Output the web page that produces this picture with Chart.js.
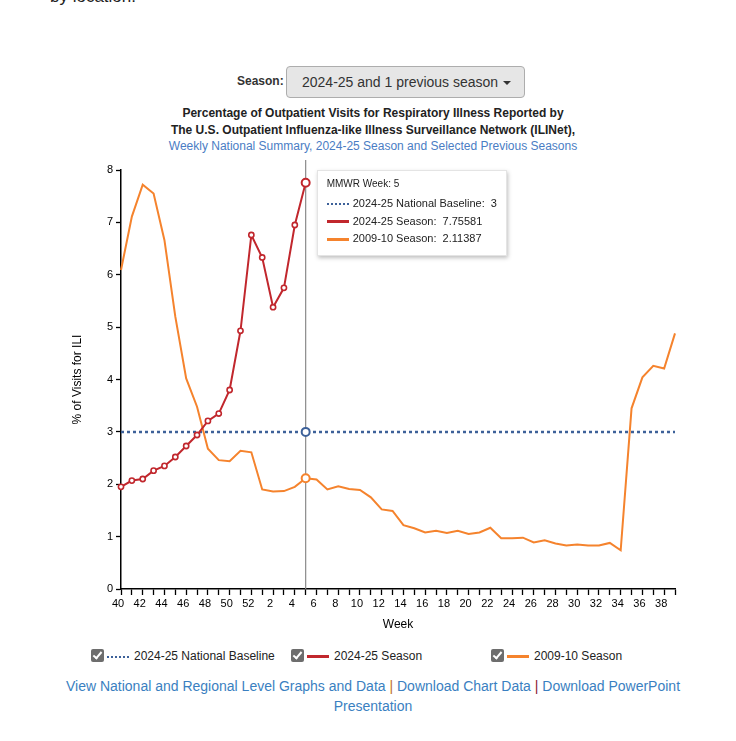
<!DOCTYPE html>
<html>
<head>
<meta charset="utf-8">
<script src="https://cdn.jsdelivr.net/npm/chart.js@4"></script>
<style>
body{margin:0;background:#fff;font-family:"Liberation Sans",Arial,sans-serif;color:#222;width:736px;height:741px;overflow:hidden;position:relative}
#cut{position:absolute;left:50px;top:-13px;font-size:17px;color:#222}
#sel{position:absolute;left:0;top:66px;width:736px;height:32px}
#sel .lbl{position:absolute;left:237px;top:8px;font-weight:bold;font-size:12px;color:#333}
#sel .box{position:absolute;left:286px;top:0;width:222px;height:30px;padding-left:15px;background:#e6e6e6;border:1px solid #adadad;border-radius:4px;font-size:14px;line-height:30px;color:#333;white-space:nowrap}
#sel .caret{display:inline-block;width:0;height:0;border-top:4px solid #333;border-left:4px solid transparent;border-right:4px solid transparent;vertical-align:middle;margin-left:5px}
#ttl{position:absolute;left:0;top:105px;width:746px;text-align:center;font-size:12px;line-height:16.5px}
#ttl b{color:#222}
#ttl .sub{color:#4a7dc4}
#wrap{position:absolute;left:60px;top:160px;width:630px;height:480px}
#tip{position:absolute;background:#fff;border:1px solid #e4e4e4;box-shadow:1px 2px 4px rgba(0,0,0,.25);padding:7px 9px;font-size:11px;color:#222;display:none;white-space:nowrap}
#tip .t{font-size:10px;margin-bottom:6px}
#tip .r{height:17.5px;line-height:17.5px}
#tip .s{display:inline-block;width:22px;height:0;vertical-align:middle;margin-right:4px}
#leg{position:absolute;left:0;top:648px;width:736px;font-size:12px}
#leg .it{position:absolute;top:0;height:16px;line-height:16px}
#leg .cb{display:inline-block;width:13px;height:13px;background:#6d6d6d;border-radius:2px;vertical-align:middle;position:relative;top:-1px}
#leg .cb:after{content:"";position:absolute;left:4px;top:1px;width:3px;height:7px;border:solid #fff;border-width:0 2px 2px 0;transform:rotate(40deg)}
#leg .s{display:inline-block;width:22px;height:0;vertical-align:middle;margin:0 5px 0 3px}
#links{position:absolute;left:43px;top:676px;width:660px;text-align:center;font-size:14px;line-height:20px;color:#3a7fc1}
</style>
</head>
<body>
<div id="cut">by location.</div>
<div id="sel"><span class="lbl">Season:</span><div class="box">2024-25 and 1 previous season<span class="caret"></span></div></div>
<div id="ttl"><b>Percentage of Outpatient Visits for Respiratory Illness Reported by</b><br><b>The U.S. Outpatient Influenza-like Illness Surveillance Network (ILINet),</b><br><span class="sub">Weekly National Summary, 2024-25 Season and Selected Previous Seasons</span></div>
<div id="wrap"><canvas id="grafico"></canvas><div id="tip"></div></div>
<div id="leg"></div>
<div id="links">View National and Regional Level Graphs and Data <span style="color:#c0701e">|</span> Download Chart Data <span style="color:#8a2232">|</span> Download PowerPoint<br>Presentation</div>
<script>
const semanas = [40,41,42,43,44,45,46,47,48,49,50,51,52,1,2,3,4,5,6,7,8,9,10,11,12,13,14,15,16,17,18,19,20,21,22,23,24,25,26,27,28,29,30,31,32,33,34,35,36,37,38,39];
const lineaBase = [3,3,3,3,3,3,3,3,3,3,3,3,3,3,3,3,3,3,3,3,3,3,3,3,3,3,3,3,3,3,3,3,3,3,3,3,3,3,3,3,3,3,3,3,3,3,3,3,3,3,3,3];
const temporada2425 = [1.95,2.07,2.10,2.26,2.35,2.52,2.73,2.94,3.21,3.35,3.80,4.93,6.76,6.33,5.38,5.75,6.95,7.75581];
const temporada0910 = [6.09,7.11,7.72,7.55,6.66,5.20,4.02,3.48,2.68,2.46,2.44,2.64,2.61,1.90,1.86,1.87,1.95,2.11387,2.09,1.90,1.96,1.91,1.89,1.75,1.52,1.49,1.22,1.16,1.08,1.11,1.07,1.11,1.05,1.08,1.17,0.97,0.97,0.98,0.89,0.93,0.87,0.83,0.85,0.83,0.83,0.88,0.74,3.45,4.04,4.26,4.21,4.88];
const etiquetasY = [0,1,2,3,4,5,6,7,8];
const semanaActiva = 17;

const series = [
    {label:"2024-25 National Baseline", color:"#3d6199", dash:true},
    {label:"2024-25 Season", color:"#c1272d", dash:false},
    {label:"2009-10 Season", color:"#f5832d", dash:false}
];

function muestra(s){
    if (s.dash) return '<span class="s" style="border-top:2.5px dotted '+s.color+'"></span>';
    return '<span class="s" style="border-top:3px solid '+s.color+'"></span>';
}

// leyenda con casillas
let leg = document.getElementById("leg");
[91,291,491].forEach(function(x, i){
    let d = document.createElement("div");
    d.className = "it";
    d.style.left = x + "px";
    d.innerHTML = '<span class="cb"></span>' + muestra(series[i]) + series[i].label;
    leg.appendChild(d);
});

function tooltipExterno(context){
    let tip = document.getElementById("tip");
    let t = context.tooltip;
    if (t.opacity === 0) { tip.style.display = "none"; return; }
    let html = '<div class="t">MMWR Week: ' + semanas[t.dataPoints[0].dataIndex] + '</div>';
    t.dataPoints.forEach(function(p){
        html += '<div class="r">' + muestra(series[p.datasetIndex]) + p.dataset.label + ':&nbsp; ' + p.raw + '</div>';
    });
    tip.innerHTML = html;
    tip.style.display = "block";
    tip.style.left = (t.caretX + 11) + "px";
    tip.style.top = context.chart.chartArea.top + "px";
}

const lineaVertical = {
    id: "lineaVertical",
    beforeDatasetsDraw(chart){
        let x = chart.scales.x.getPixelForValue(semanaActiva);
        let ctx = chart.ctx;
        ctx.save();
        ctx.strokeStyle = "#8a8a8a";
        ctx.lineWidth = 1.2;
        ctx.beginPath();
        ctx.moveTo(x, chart.chartArea.top - 15);
        ctx.lineTo(x, chart.chartArea.bottom);
        ctx.stroke();
        ctx.restore();
    }
};

const fuente = {family:"'Liberation Sans', Arial, sans-serif", size:11};

let grafico = document.getElementById("grafico").getContext("2d");
var chart = new Chart(grafico, {
    type: "line",
    data: {
        labels: semanas,
        datasets: [
            {
                label: series[0].label,
                data: lineaBase,
                borderColor: series[0].color,
                borderWidth: 2.5,
                borderDash: [3,3],
                pointRadius: 0,
                pointHoverRadius: 4,
                pointHoverBorderWidth: 2,
                pointHoverBackgroundColor: "#fff",
                pointHoverBorderColor: series[0].color,
                order: 3
            },
            {
                label: series[1].label,
                data: temporada2425,
                borderColor: series[1].color,
                borderWidth: 2,
                pointRadius: 2.6,
                pointBorderWidth: 1.6,
                pointBackgroundColor: "#fff",
                pointBorderColor: series[1].color,
                pointHoverRadius: 4,
                pointHoverBorderWidth: 2,
                pointHoverBackgroundColor: "#fff",
                pointHoverBorderColor: series[1].color,
                order: 1
            },
            {
                label: series[2].label,
                data: temporada0910,
                borderColor: series[2].color,
                borderWidth: 2,
                pointRadius: 0,
                pointHoverRadius: 4,
                pointHoverBorderWidth: 2,
                pointHoverBackgroundColor: "#fff",
                pointHoverBorderColor: series[2].color,
                order: 2
            }
        ]
    },
    options: {
        responsive: true,
        maintainAspectRatio: false,
        animation: false,
        events: [],
        layout: {padding: {top: 10, right: 15, left: 0, bottom: 0}},
        plugins: {
            legend: {display: false},
            tooltip: {enabled: false, mode: "index", intersect: false, external: tooltipExterno}
        },
        scales: {
            x: {
                type: "category",
                offset: false,
                grid: {drawOnChartArea: false, color: "#000", tickLength: 6, tickWidth: 1.3},
                border: {color: "#000", width: 1.5},
                ticks: {
                    autoSkip: false, maxRotation: 0, padding: 2, color: "#000", font: fuente, labelOffset: -3,
                    callback: function(v, i){ return i % 2 === 0 ? semanas[i] : ""; }
                },
                title: {display: true, text: "Week", color: "#000", font: {family: fuente.family, size: 12}, padding: {top: 0, bottom: 8}},
                afterFit: function(s){ s.height = 51; }
            },
            y: {
                min: 0,
                max: 8,
                grid: {drawOnChartArea: false, color: "#000", tickLength: 5, tickWidth: 1.3},
                border: {color: "#000", width: 1.5},
                ticks: {
                    stepSize: 1, padding: 3, color: "#000", font: fuente,
                    callback: function(v){ return etiquetasY.indexOf(v) >= 0 ? v : ""; }
                },
                title: {display: true, text: "% of Visits for ILI", color: "#000", font: {family: fuente.family, size: 12}, padding: {top: 10, bottom: 0}},
                afterFit: function(s){ s.width = 61; }
            }
        }
    },
    plugins: [lineaVertical]
});

let activos = [0,1,2].map(function(d){ return {datasetIndex: d, index: semanaActiva}; });
chart.setActiveElements(activos);
chart.tooltip.setActiveElements(activos, {x: chart.scales.x.getPixelForValue(semanaActiva), y: chart.chartArea.top});
chart.update();
</script>
</body>
</html>
